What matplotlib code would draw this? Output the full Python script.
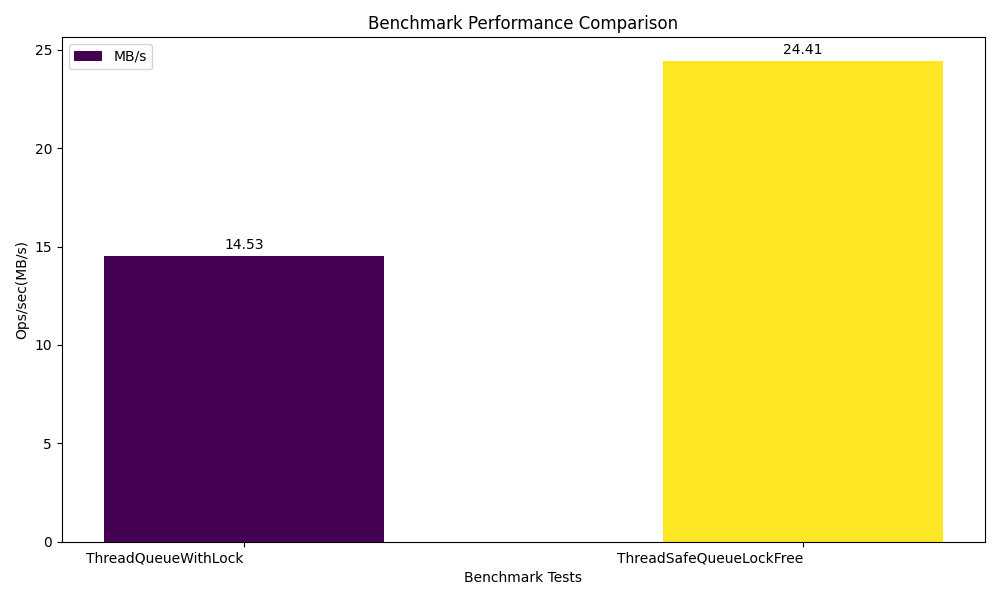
import matplotlib
matplotlib.use("Agg")
import matplotlib.pyplot as plt
import numpy as np

benchmarks = ["ThreadQueueWithLock", "ThreadSafeQueueLockFree"]
mb_per_sec = [14.53, 24.41]

fig, ax = plt.subplots(figsize=(10, 6), dpi=100)
x = np.arange(len(benchmarks))
colores = plt.cm.viridis(np.linspace(0, 1, len(benchmarks)))
barras = ax.bar(x, mb_per_sec, width=0.5, color=colores, label="MB/s")

for b in barras:
	h = b.get_height()
	ax.annotate(f"{h:.2f}", xy=(b.get_x() + b.get_width() / 2, h),
		xytext=(0, 3), textcoords="offset points", ha="center", va="bottom")

ax.set_xticks(x)
ax.set_xticklabels(benchmarks, ha="right")
ax.set_xlabel("Benchmark Tests")
ax.set_ylabel("Ops/sec(MB/s)")
ax.set_title("Benchmark Performance Comparison")
ax.legend(loc="upper left")
plt.tight_layout()
plt.savefig("out.png")
